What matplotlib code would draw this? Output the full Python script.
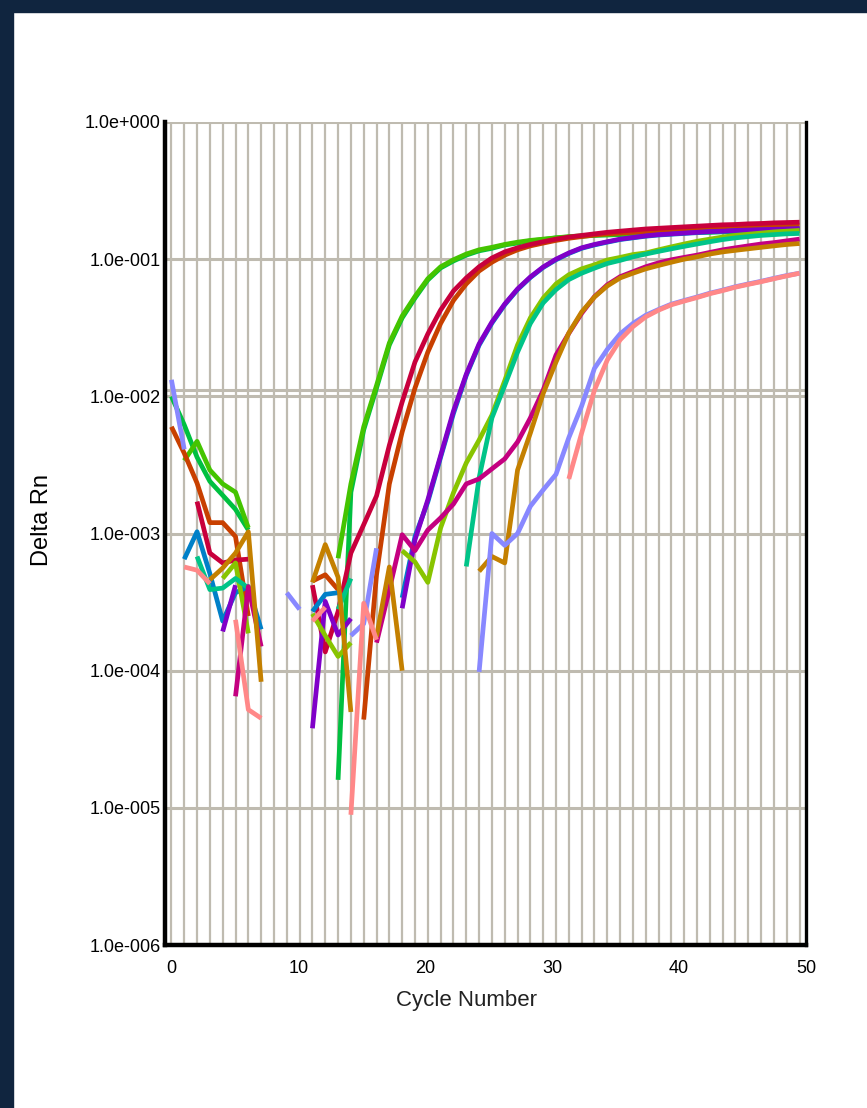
import numpy as np
import matplotlib.pyplot as plt
from matplotlib.patches import Rectangle
from matplotlib.ticker import NullLocator

nan = np.nan

# amplification data, Delta Rn per cycle (nan = value <= 0, not drawn on log axis)
cycles = np.arange(1, 51)
threshold = 0.0112

emerald = [1.0e-2, 6.2e-3, 3.6e-3, 2.4e-3, 1.9e-3, 1.5e-3, 1.06e-3, nan, nan, nan,
           nan, nan, nan, 1.6e-5, 2.0e-3, 5.7e-3, 1.15e-2, 2.37e-2, 3.73e-2, 5.21e-2,
           7.05e-2, 8.63e-2, 9.7e-2, 0.107, 0.115, 0.120, 0.127, 0.131, 0.136, 0.139,
           0.143, 0.145, 0.147, 0.149, 0.150, 0.151, 0.152, 0.154, 0.154, 0.155,
           0.156, 0.157, 0.157, 0.158, 0.158, 0.159, 0.159, 0.160, 0.160, 0.161]
lime = [nan, 3.4e-3, 4.7e-3, 2.9e-3, 2.3e-3, 2.0e-3, 1.1e-3, nan, nan, nan,
        nan, nan, nan, 6.6e-4, 2.3e-3, 6.0e-3, 1.2e-2, 2.45e-2, 3.85e-2, 5.35e-2,
        7.2e-2, 8.8e-2, 9.9e-2, 0.109, 0.117, 0.122, 0.128, 0.133, 0.137, 0.140,
        0.143, 0.146, 0.148, 0.150, 0.151, 0.153, 0.154, 0.155, 0.156, 0.157,
        0.158, 0.159, 0.159, 0.160, 0.161, 0.161, 0.162, 0.162, 0.163, 0.163]
crimson = [nan, nan, 1.71e-3, 7.2e-4, 6.1e-4, 6.4e-4, 6.5e-4, nan, nan, nan,
           nan, 4.2e-4, 1.37e-4, 2.7e-4, 7.2e-4, 1.16e-3, 1.88e-3, 4.4e-3, 9.1e-3, 1.78e-2,
           2.85e-2, 4.26e-2, 5.86e-2, 7.3e-2, 8.8e-2, 0.102, 0.113, 0.121, 0.128, 0.134,
           0.140, 0.145, 0.149, 0.153, 0.157, 0.160, 0.163, 0.166, 0.168, 0.170,
           0.172, 0.174, 0.176, 0.178, 0.179, 0.181, 0.182, 0.184, 0.185, 0.186]
orange = [6.0e-3, 3.85e-3, 2.33e-3, 1.2e-3, 1.2e-3, 9.5e-4, 2.5e-4, nan, nan, nan,
          nan, 4.5e-4, 5.0e-4, 3.9e-4, nan, 4.4e-5, 5.0e-4, 2.3e-3, 5.5e-3, 1.15e-2,
          2.1e-2, 3.4e-2, 5.0e-2, 6.6e-2, 8.2e-2, 9.5e-2, 0.107, 0.117, 0.125, 0.131,
          0.137, 0.142, 0.146, 0.150, 0.153, 0.155, 0.157, 0.159, 0.161, 0.162,
          0.164, 0.165, 0.167, 0.168, 0.169, 0.171, 0.172, 0.172, 0.174, 0.175]
blue = [nan, 6.5e-4, 1.03e-3, 5.1e-4, 2.3e-4, 3.7e-4, 4.1e-4, 2.0e-4, nan, nan,
        nan, 2.7e-4, 3.6e-4, 3.7e-4, nan, nan, nan, nan, 3.4e-4, 9.5e-4,
        1.7e-3, 3.6e-3, 7.5e-3, 1.42e-2, 2.36e-2, 3.42e-2, 4.65e-2, 6.0e-2, 7.35e-2, 8.7e-2,
        0.099, 0.110, 0.120, 0.127, 0.133, 0.139, 0.143, 0.147, 0.150, 0.152,
        0.154, 0.156, 0.158, 0.159, 0.161, 0.162, 0.163, 0.164, 0.165, 0.166]
purple = [nan, nan, nan, nan, 1.93e-4, 4.2e-4, nan, nan, nan, nan,
          nan, 3.8e-5, 3.2e-4, 1.82e-4, 2.4e-4, nan, nan, nan, 2.85e-4, 9.0e-4,
          1.76e-3, 3.7e-3, 7.8e-3, 1.45e-2, 2.41e-2, 3.48e-2, 4.71e-2, 6.07e-2, 7.42e-2, 8.77e-2,
          0.100, 0.111, 0.121, 0.128, 0.134, 0.140, 0.144, 0.148, 0.151, 0.153,
          0.155, 0.157, 0.159, 0.160, 0.162, 0.163, 0.164, 0.165, 0.166, 0.167]
yellowgreen = [nan, nan, nan, nan, 4.7e-4, 6.1e-4, 1.87e-4, nan, nan, nan,
               nan, 2.6e-4, 1.8e-4, 1.27e-4, 1.6e-4, nan, nan, nan, 7.5e-4, 6.2e-4,
               4.4e-4, 1.1e-3, 1.98e-3, 3.27e-3, 4.8e-3, 7.3e-3, 1.3e-2, 2.37e-2, 3.73e-2, 5.2e-2,
               6.6e-2, 7.7e-2, 8.5e-2, 9.1e-2, 9.86e-2, 0.103, 0.108, 0.111, 0.117, 0.123,
               0.129, 0.135, 0.140, 0.145, 0.149, 0.152, 0.155, 0.158, 0.160, 0.162]
teal = [nan, nan, 6.8e-4, 3.9e-4, 4.0e-4, 4.7e-4, 4.0e-4, nan, nan, nan,
        nan, nan, nan, 2.8e-4, 4.7e-4, nan, nan, nan, nan, nan,
        nan, nan, nan, 5.75e-4, 2.54e-3, 6.96e-3, 1.2e-2, 2.1e-2, 3.4e-2, 4.8e-2,
        6.0e-2, 7.1e-2, 7.9e-2, 8.6e-2, 9.3e-2, 9.8e-2, 0.104, 0.109, 0.114, 0.119,
        0.124, 0.129, 0.134, 0.139, 0.143, 0.146, 0.149, 0.151, 0.153, 0.154]
magenta = [nan, nan, nan, nan, nan, 6.5e-5, 4.1e-4, 1.5e-4, nan, nan,
           nan, nan, nan, nan, nan, nan, 1.6e-4, 3.9e-4, 9.8e-4, 7.5e-4,
           1.06e-3, 1.3e-3, 1.64e-3, 2.3e-3, 2.5e-3, 2.96e-3, 3.5e-3, 4.65e-3, 6.96e-3, 1.11e-2,
           2.0e-2, 2.88e-2, 4.03e-2, 5.33e-2, 6.5e-2, 7.45e-2, 8.1e-2, 8.8e-2, 9.4e-2, 9.9e-2,
           0.103, 0.107, 0.112, 0.117, 0.121, 0.125, 0.129, 0.132, 0.136, 0.140]
gold = [nan, nan, nan, 4.6e-4, 5.6e-4, 7.2e-4, 1.03e-3, 8.3e-5, nan, nan,
        nan, 4.4e-4, 8.3e-4, 4.8e-4, 5.0e-5, nan, 1.77e-4, 5.7e-4, 1.0e-4, nan,
        nan, nan, nan, nan, 5.3e-4, 6.8e-4, 6.1e-4, 2.9e-3, 5.4e-3, 1.05e-2,
        1.78e-2, 2.9e-2, 4.12e-2, 5.3e-2, 6.38e-2, 7.3e-2, 7.9e-2, 8.5e-2, 9.0e-2, 9.5e-2,
        0.100, 0.104, 0.109, 0.113, 0.116, 0.119, 0.122, 0.125, 0.128, 0.130]
periwinkle = [1.32e-2, 4.1e-3, nan, nan, nan, nan, nan, nan, nan, 3.7e-4,
              2.8e-4, nan, nan, nan, 1.8e-4, 2.2e-4, 7.8e-4, nan, nan, nan,
              nan, nan, nan, nan, 9.8e-5, 1.0e-3, 8.2e-4, 1.0e-3, 1.58e-3, 2.08e-3,
              2.7e-3, 5.0e-3, 8.5e-3, 1.6e-2, 2.2e-2, 2.85e-2, 3.4e-2, 3.9e-2, 4.3e-2, 4.7e-2,
              5.0e-2, 5.3e-2, 5.65e-2, 5.95e-2, 6.3e-2, 6.6e-2, 6.9e-2, 7.25e-2, 7.6e-2, 7.9e-2]
pink = [nan, 5.7e-4, 5.4e-4, 4.3e-4, nan, 2.35e-4, 5.2e-5, 4.5e-5, nan, nan,
        nan, 2.3e-4, 2.9e-4, nan, 8.9e-6, 3.1e-4, 1.68e-4, nan, nan, nan,
        nan, nan, nan, nan, nan, nan, nan, nan, nan, nan,
        nan, 2.5e-3, 5.4e-3, 1.11e-2, 1.84e-2, 2.58e-2, 3.22e-2, 3.8e-2, 4.25e-2, 4.65e-2,
        4.95e-2, 5.25e-2, 5.6e-2, 5.9e-2, 6.25e-2, 6.55e-2, 6.85e-2, 7.2e-2, 7.55e-2, 7.9e-2]

series = [
    (emerald, '#00c040'), (lime, '#44c400'),
    (orange, '#c84000'), (crimson, '#c8003c'),
    (blue, '#0080c8'), (purple, '#8000c8'),
    (yellowgreen, '#88c400'), (teal, '#00c488'),
    (magenta, '#c40080'), (gold, '#c48000'),
    (periwinkle, '#8888ff'), (pink, '#ff8888'),
]

decades = [1e-6, 1e-5, 1e-4, 1e-3, 1e-2, 1e-1, 1e0]
ytick_labels = ['1.0e-006', '1.0e-005', '1.0e-004', '1.0e-003',
                '1.0e-002', '1.0e-001', '1.0e+000']
xtick_values = [0, 10, 20, 30, 40, 50]

grid_col = '#bfbbb0'
navy = '#10253f'

plt.rcParams['font.family'] = ['Liberation Sans', 'DejaVu Sans']

W, H = 867, 1108
fig = plt.figure(figsize=(W / 100, H / 100), dpi=100)
fig.patches.append(Rectangle((0, 1 - 12 / H), 1, 12 / H, transform=fig.transFigure,
                             color=navy, zorder=0))
fig.patches.append(Rectangle((0, 0), 13 / W, 1, transform=fig.transFigure,
                             color=navy, zorder=0))

ax = fig.add_axes([165 / W, 1 - 945 / H, 641 / W, 823 / H])
ax.set_yscale('log')
ax.set_ylim(1e-6, 1)
ax.set_xlim(0.5, 50.5)

for c in cycles:
    ax.axvline(c, color=grid_col, lw=1.6, zorder=1)
for d in decades:
    ax.axhline(d, color=grid_col, lw=2.2, zorder=1)
ax.axhline(threshold, color=grid_col, lw=2.2, zorder=1)

for vals, col in series:
    ax.plot(cycles, vals, color=col, lw=3.4, zorder=3, solid_capstyle='butt')

ax.spines['top'].set_visible(False)
ax.spines['left'].set_linewidth(3.2)
ax.spines['bottom'].set_linewidth(3.2)
ax.spines['right'].set_linewidth(2.4)
for s in ['left', 'bottom', 'right']:
    ax.spines[s].set_color('black')
    ax.spines[s].set_zorder(4)

ax.yaxis.set_minor_locator(NullLocator())
ax.set_yticks(decades)
ax.set_yticklabels(ytick_labels)
ax.set_xticks([1 + v * 0.99 for v in xtick_values])
ax.set_xticklabels([str(v) for v in xtick_values])
ax.tick_params(axis='both', length=0, labelsize=13)
ax.tick_params(axis='y', pad=3)
ax.tick_params(axis='x', pad=11)

ax.set_xlabel('Cycle Number', fontsize=16, color='#222222')
ax.xaxis.label.set_va('center')
ax.xaxis.set_label_coords(0.471, -0.067)
ax.set_ylabel('Delta Rn', fontsize=17)
ax.yaxis.label.set_va('center')
ax.yaxis.set_label_coords(-0.192, 0.516)

fig.savefig('out.png', dpi=100)
